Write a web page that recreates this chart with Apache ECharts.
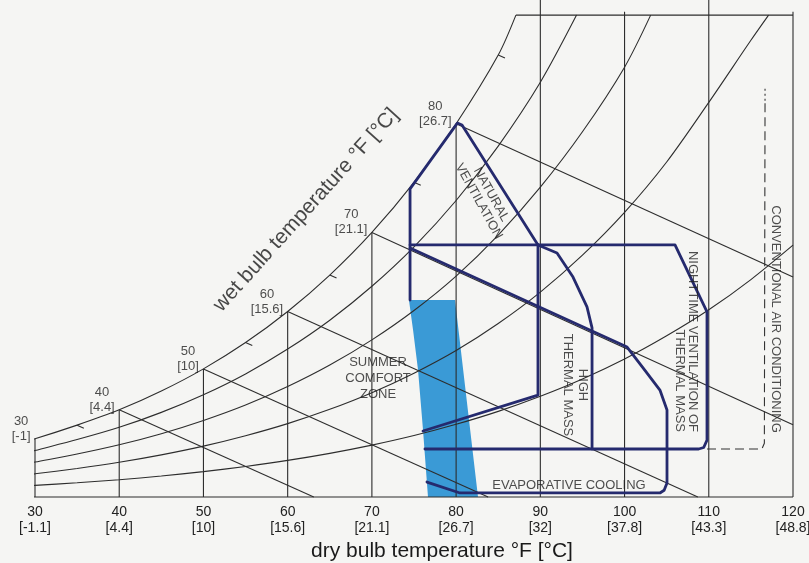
<!DOCTYPE html>
<html><head><meta charset="utf-8">
<script src="https://cdn.jsdelivr.net/npm/echarts/dist/echarts.min.js"></script>
<style>html,body{margin:0;padding:0;background:#f5f5f3}#c{width:809px;height:563px}</style>
</head><body><div id="c"></div>
<script>
// ---- data (x: dry bulb °F, y: humidity ratio g/kg) ----
const dryBulbTicks = [30,40,50,60,70,80,90,100,110,120];
const dryBulbC = ['-1.1','4.4','10','15.6','21.1','26.7','32','37.8','43.3','48.8'];
const dryLineTop = [3.47,5.19,7.63,11.05,15.76,22.23,29.6,28.9,29.6,28.9];

const satT = [26,30,35,40,45,50,55,60,65,70,75,80,85,87.1];
const satW = [2.90,3.47,4.28,5.19,6.31,7.63,9.20,11.05,13.22,15.76,18.74,22.23,26.32,28.7];
const satTickStart = [[35,4.28],[55,9.20],[65,13.22],[75,18.74],[85,26.32]];
const satTickEnd = [[35.8,4.10],[55.8,9.02],[65.8,13.04],[75.8,18.56],[85.8,26.14]];

const rh80T = [29.5,30,35,40,45,50,55,60,65,70,75,80,85,90,94.3];
const rh80W = [2.70,2.77,3.42,4.15,5.04,6.09,7.33,8.81,10.53,12.55,14.90,17.66,20.90,24.70,28.7];
const rh60T = [29.5,30,35,40,45,50,55,60,65,70,75,80,85,90,95,100,103.1];
const rh60W = [2.03,2.08,2.56,3.11,3.77,4.56,5.48,6.58,7.86,9.36,11.11,13.16,15.60,18.45,21.75,25.60,28.7];
const rh40T = [29.5,30,35,40,45,50,55,60,65,70,75,80,85,90,95,100,105,110,115,117.1];
const rh40W = [1.35,1.38,1.70,2.07,2.51,3.03,3.65,4.37,5.22,6.21,7.37,8.72,10.33,12.20,14.40,16.95,19.95,23.50,27.20,28.7];
const rh20T = [29.5,30,35,40,45,50,55,60,65,70,75,80,85,90,95,100,105,110,115,120];
const rh20W = [0.67,0.69,0.85,1.03,1.25,1.51,1.82,2.18,2.60,3.09,3.66,4.33,5.10,6.00,7.03,8.22,9.60,11.15,12.95,15.00];

const baseLine = [[27.6,0],[120,0]];
const topLine = [[87.1,28.7],[120,28.7]];

const wbLabelT = [30,40,50,60,70,80];
const wbLabelW = [3.47,5.19,7.63,11.05,15.76,22.23];
const wbLabelC = ['-1','4.4','10','15.6','21.1','26.7'];
const wbLineStart = [[40,5.19],[50,7.63],[60,11.05],[70,15.76],[80,22.23]];
const wbLineEnd = [[63.1,0],[83.8,0],[108.7,0],[120,4.3],[120,13.1]];

// zones
const comfortZone = [[74.4,11.73],[79.87,11.73],[82.6,0],[76.66,0],[76.07,3.99],[75.48,7.56],[74.9,9.9]];
const naturalVent = [[74.53,11.73],[74.53,18.35],[80.15,22.27],[80.7,22.15],[89.72,15.01]];
const nightVent = [[74.53,15.01],[105.99,15.01],[109.79,11.02],[109.79,3.39],[109.4,2.95],[108.8,2.86],[76.3,2.86]];
const highMassLeft = [[89.72,15.01],[89.72,6.07],[76.07,3.93]];
const highMassRight = [[89.72,15.01],[91.98,14.53],[93.88,13.10],[95.54,11.32],[96.14,10.07],[96.14,2.86]];
const evapCooling = [[74.53,14.83],[100.3,8.93],[102.4,7.56],[104.2,6.37],[105.04,5.18],[105.04,0.83],[104.7,0.4],[104.2,0.24],[80.46,0.24],[76.54,0.89]];
const airCondDash = [[109.79,2.86],[116.3,2.86],[116.6,3.2],[116.68,23.6]];
const airCondDot = [[116.68,23.6],[116.68,24.36]];

const zoneLabels = [
  {name:'SUMMER\nCOMFORT\nZONE', pos:[70.73,7.09], rotate:0, align:'center', lh:16},
  {name:'NATURAL\nVENTILATION', pos:[83.43,17.81], rotate:-61, align:'center', lh:14},
  {name:'HIGH\nTHERMAL MASS', pos:[94.12,6.67], rotate:-90, align:'center', lh:15},
  {name:'NIGHTTIME VENTILATION OF\nTHERMAL MASS', pos:[107.3,3.87], rotate:-90, align:'right', lh:13},
  {name:'CONVENTIONAL AIR CONDITIONING', pos:[117.95,10.6], rotate:-90, align:'center', lh:14},
  {name:'EVAPORATIVE COOLING', pos:[93.4,0.71], rotate:0, align:'center', lh:14}
];
const wetBulbTitle = {name:'wet bulb temperature °F [°C]', pos:[62.18,17.09], rotate:48};

// ---- build ----
const FONT = 'Liberation Sans, Arial, sans-serif';
const thin = {color:'#2d2d2d', width:1.1};
const navy = '#252a6e';
function zip(a,b){return a.map((v,i)=>[v,b[i]]);}
function ln(data, style, extra){
  return Object.assign({type:'line', data, symbol:'none', silent:true, clip:false, animation:false,
    lineStyle:Object.assign({}, thin, style||{}), z:3}, extra||{});
}
const series = [];
series.push({type:'custom', silent:true, animation:false, z:1,
  renderItem:(p, api)=>({type:'polygon', shape:{points:comfortZone.map(q=>api.coord(q))}, style:{fill:'#3a9ad6'}}),
  data:[comfortZone[0]]});
series.push(ln(baseLine));
series.push(ln(topLine));
dryBulbTicks.forEach((t,i)=>series.push(ln([[t,0],[t,dryLineTop[i]]])));
series.push(ln(zip(satT,satW),{}, {smooth:0.3}));
satTickStart.forEach((s,i)=>series.push(ln([s, satTickEnd[i]])));
[[rh80T,rh80W],[rh60T,rh60W],[rh40T,rh40W],[rh20T,rh20W]].forEach(([a,b])=>series.push(ln(zip(a,b),{}, {smooth:0.3})));
wbLineStart.forEach((s,i)=>series.push(ln([s, wbLineEnd[i]])));
const nv = {color:navy, width:2.8, join:'round', cap:'round'};
[naturalVent, nightVent, highMassLeft, highMassRight, evapCooling].forEach(d=>series.push(ln(d, nv, {z:5})));
series.push(ln(airCondDash, {color:'#333', width:1.1, type:[9,5]}, {z:4}));
series.push(ln(airCondDot, {color:'#333', width:1.1, type:[2,3]}, {z:4}));

// wet bulb labels at saturation curve
series.push({type:'scatter', silent:true, animation:false, symbolSize:1, itemStyle:{color:'rgba(0,0,0,0)'}, z:6,
  data: wbLabelT.map((t,i)=>({value:[t, wbLabelW[i]], name:'{c|'+t+'}\n{c|['+wbLabelC[i]+']}'})),
  label:{show:true, position:'left', distance:4, offset:[0,-10], formatter:'{b}', color:'#222', fontFamily:FONT,
    rich:{c:{align:'center', fontSize:13, lineHeight:15, color:'#222', fontFamily:FONT}}}});
// zone labels
series.push({type:'scatter', silent:true, animation:false, symbolSize:1, itemStyle:{color:'rgba(0,0,0,0)'}, z:6,
  data: zoneLabels.map(l=>({value:l.pos, name:l.name, label:{rotate:l.rotate, align:l.align, lineHeight:l.lh}})),
  label:{show:true, position:'inside', formatter:'{b}', fontSize:13, color:'#222', verticalAlign:'middle', fontFamily:FONT}});
series.push({type:'scatter', silent:true, animation:false, symbolSize:1, itemStyle:{color:'rgba(0,0,0,0)'}, z:6,
  data:[{value:wetBulbTitle.pos, name:wetBulbTitle.name}],
  label:{show:true, position:'inside', formatter:'{b}', rotate:wetBulbTitle.rotate, fontSize:21, color:'#1a1a1a', fontFamily:FONT}});

const chart = echarts.init(document.getElementById('c'), null, {renderer:'canvas'});
chart.setOption({
  backgroundColor:'#f5f5f3',
  animation:false,
  grid:{left:35, right:16, top:0, bottom:66, containLabel:false, outerBoundsMode:'none'},
  xAxis:{type:'value', min:30, max:120, interval:10,
    axisLine:{show:false}, axisTick:{show:false}, splitLine:{show:false},
    axisLabel:{showMinLabel:true, showMaxLabel:true, margin:7, fontSize:14, lineHeight:16, color:'#222', fontFamily:FONT,
      formatter:(v)=>{const i=dryBulbTicks.indexOf(v); return v+'\n['+dryBulbC[i]+']';}},
    name:'dry bulb temperature °F [°C]', nameLocation:'middle', nameGap:41,
    nameTextStyle:{fontSize:21, color:'#1a1a1a', fontFamily:FONT, padding:[0,0,0,56]}},
  yAxis:{type:'value', min:0, max:29.6, show:false},
  series
});
</script></body></html>
